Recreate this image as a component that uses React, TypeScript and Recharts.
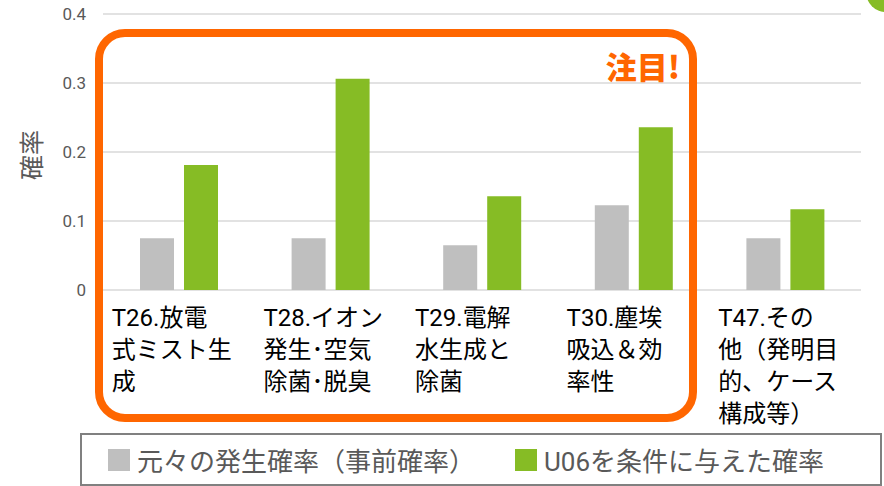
import React from "react";
import { BarChart, Bar, XAxis, YAxis, CartesianGrid } from "recharts";

const categories = ["T26", "T28", "T29", "T30", "T47"];
const tickLines = [
  ["T26.放電", "式ミスト生", "成"],
  ["T28.イオン", "発生･空気", "除菌･脱臭"],
  ["T29.電解", "水生成と", "除菌"],
  ["T30.塵埃", "吸込＆効", "率性"],
  ["T47.その", "他（発明目", "的、ケース", "構成等）"],
];
const priorValues = [0.075, 0.075, 0.065, 0.123, 0.075];
const u06Values = [0.181, 0.306, 0.136, 0.236, 0.117];
const seriesNames = ["元々の発生確率（事前確率）", "U06を条件に与えた確率"];
const yTicks = [0, 0.1, 0.2, 0.3, 0.4];

const GRAY = "#bfbfbf";
const GREEN = "#86bc25";
const ORANGE = "#ff6600";
const FONT = "Roboto, 'Noto Sans CJK JP', sans-serif";

const data = categories.map((c, i) => ({
  name: c,
  prior: priorValues[i],
  u06: u06Values[i],
}));

const CategoryTick = (props: any) => {
  const { x, payload } = props;
  const lines = tickLines[payload.index] || [];
  return (
    <g>
      {lines.map((line, i) => (
        <text
          key={i}
          x={x - 67}
          y={318 + i * 32}
          dominantBaseline="central"
          fontSize={24}
          fill="#000"
          fontFamily={FONT}
        >
          {line}
        </text>
      ))}
    </g>
  );
};

export default function App() {
  return (
    <div
      style={{
        position: "absolute",
        left: 0,
        top: 0,
        width: 884,
        height: 486,
        overflow: "hidden",
        background: "#fff",
        fontFamily: FONT,
      }}
    >
      <BarChart
        width={884}
        height={433}
        data={data}
        margin={{ top: 14, right: 23, left: 0, bottom: 0 }}
        barSize={34}
        barGap={10}
      >
        <CartesianGrid vertical={false} stroke="#d9d9d9" strokeWidth={1.5} />
        <XAxis
          dataKey="name"
          height={143}
          axisLine={false}
          tickLine={false}
          tick={<CategoryTick />}
          interval={0}
        />
        <YAxis
          width={103}
          domain={[0, 0.4]}
          ticks={yTicks}
          axisLine={false}
          tickLine={false}
          tickMargin={11}
          tick={{ fill: "#595959", fontSize: 17, fontFamily: "Roboto, sans-serif" }}
          tickFormatter={(v: number) => (v === 0 ? "0" : v.toFixed(1))}
          label={{
            value: "確率",
            content: () => (
              <text
                x={32}
                y={155}
                transform="rotate(-90 32 155)"
                textAnchor="middle"
                dominantBaseline="central"
                fontSize={25}
                fill="#595959"
                fontFamily={FONT}
              >
                確率
              </text>
            ),
          }}
        />
        <Bar dataKey="prior" name={seriesNames[0]} fill={GRAY} isAnimationActive={false} />
        <Bar dataKey="u06" name={seriesNames[1]} fill={GREEN} isAnimationActive={false} />
      </BarChart>

      {/* highlight frame */}
      <div
        style={{
          position: "absolute",
          left: 95,
          top: 29,
          width: 602,
          height: 393,
          border: `8px solid ${ORANGE}`,
          borderRadius: 30,
          boxSizing: "border-box",
          pointerEvents: "none",
        }}
      />
      <div
        style={{
          position: "absolute",
          left: 590,
          top: 45,
          width: 90,
          textAlign: "right",
          color: ORANGE,
          fontWeight: 900,
          fontSize: 31,
          lineHeight: "42px",
          fontFamily: "'Noto Sans CJK JP', sans-serif",
        }}
      >
        注目!
      </div>

      <div
        style={{
          position: "absolute",
          left: 866,
          top: -28,
          width: 40,
          height: 40,
          borderRadius: "50%",
          background: GREEN,
        }}
      />

      {/* legend */}
      <div
        style={{
          position: "absolute",
          left: 80,
          top: 433,
          width: 802,
          height: 53,
          border: "2px solid #808080",
          boxSizing: "border-box",
          color: "#595959",
          fontSize: 26,
        }}
      >
        {seriesNames.map((n, i) => (
          <div
            key={n}
            style={{
              position: "absolute",
              left: i === 0 ? 26 : 433,
              top: 0,
              height: 49,
              display: "flex",
              alignItems: "center",
              whiteSpace: "nowrap",
            }}
          >
            <span
              style={{
                display: "inline-block",
                width: 22,
                height: 22,
                background: i === 0 ? GRAY : GREEN,
                marginRight: 7,
              }}
            />
            <span>{n}</span>
          </div>
        ))}
      </div>
    </div>
  );
}
